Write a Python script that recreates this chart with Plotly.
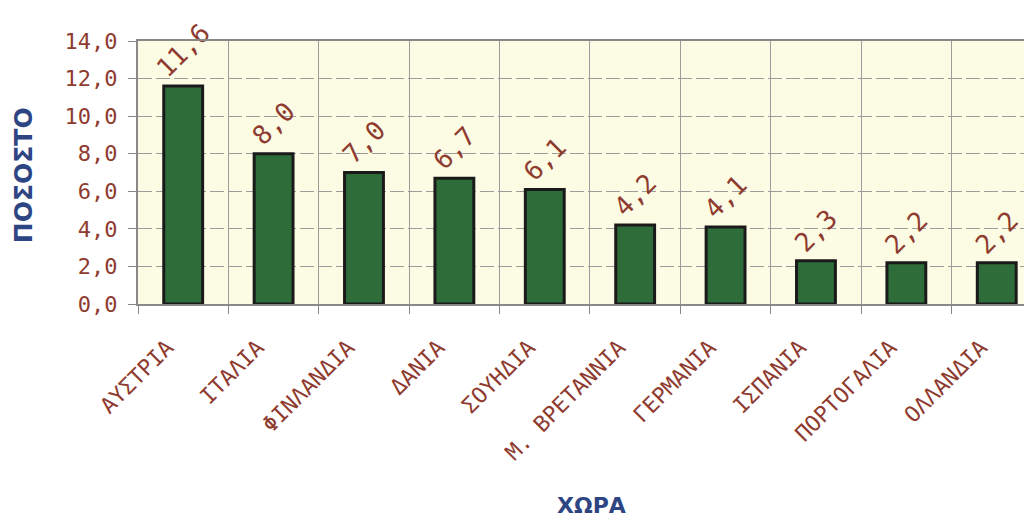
import plotly.graph_objects as go

countries = ["ΑΥΣΤΡΙΑ", "ΙΤΑΛΙΑ", "ΦΙΝΛΑΝΔΙΑ", "ΔΑΝΙΑ", "ΣΟΥΗΔΙΑ",
             "Μ. ΒΡΕΤΑΝΝΙΑ", "ΓΕΡΜΑΝΙΑ", "ΙΣΠΑΝΙΑ", "ΠΟΡΤΟΓΑΛΙΑ", "ΟΛΛΑΝΔΙΑ"]
values = [11.6, 8.0, 7.0, 6.7, 6.1, 4.2, 4.1, 2.3, 2.2, 2.2]
y_ticks = [0, 2, 4, 6, 8, 10, 12, 14]
y_tick_labels = [f"{v:.1f}".replace(".", ",") for v in y_ticks]
bar_labels = [f"{v:.1f}".replace(".", ",") for v in values]
x_title = "ΧΩΡΑ"
y_title = "ΠΟΣΟΣΤΟ"

RED = "#8E3B30"
BLUE = "#2E4583"
MONO = "DejaVu Sans Mono"
GRID = "#9C9C9C"

fig = go.Figure(go.Bar(
    x=countries, y=values,
    width=0.43,
    marker=dict(color="#2E6D3A", line=dict(color="#1A1A1A", width=3)),
    text=bar_labels, textposition="outside", textangle=-45,
    textfont=dict(family=MONO, size=26, color=RED),
    constraintext="none",
    cliponaxis=False,
))

fig.update_layout(
    width=1024, height=514,
    margin=dict(l=130, r=0, t=33, b=218),
    paper_bgcolor="#FFFFFF",
    plot_bgcolor="#FCFCE4",
    showlegend=False,
    annotations=[
        dict(text=x_title, xref="paper", yref="paper", x=0.507, y=-0.768,
             xanchor="center", yanchor="middle", showarrow=False,
             font=dict(family="DejaVu Sans", size=22, color=BLUE, weight="bold")),
        dict(text=y_title, xref="paper", yref="paper", x=-0.1285, y=0.49,
             xanchor="center", yanchor="middle", showarrow=False, textangle=-90,
             font=dict(family="DejaVu Sans", size=25, color=BLUE, weight="bold")),
    ],
)

fig.update_xaxes(
    range=[-0.5, 9.39],
    tickangle=-45,
    tickfont=dict(family=MONO, size=22, color=RED),
    ticklabelstandoff=20,
    ticklabelshift=-16,
    ticks="outside", ticklen=8, tickcolor="#888888",
    tickson="boundaries",
    showgrid=True, gridcolor=GRID, gridwidth=1,
    showline=True, linecolor="#888888", linewidth=2, mirror=True,
    automargin=False,
)

fig.update_yaxes(
    range=[0, 14],
    tickvals=y_ticks, ticktext=y_tick_labels,
    tickfont=dict(family=MONO, size=22, color=RED),
    ticklabelstandoff=6,
    ticks="outside", ticklen=8, tickcolor="#888888",
    showgrid=True, gridcolor=GRID, gridwidth=1, griddash="14px,4px",
    showline=True, linecolor="#888888", linewidth=2, mirror=False,
    zeroline=False,
    automargin=False,
)

fig.write_html("out.html")
